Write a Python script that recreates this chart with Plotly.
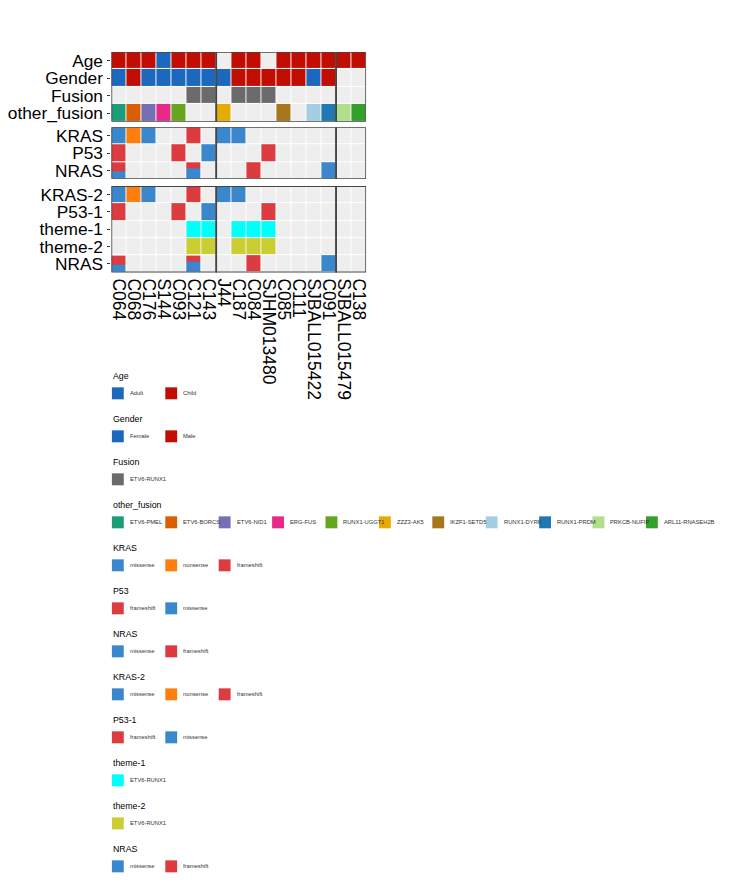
import plotly.graph_objects as go

# ---- data ----
samples = ["C064", "C068", "C176", "S144", "C093", "C121", "C143",
           "J44", "C187", "C084", "SJHM013480", "C085", "C111", "SJBALL015422", "C091",
           "SJBALL015479", "C138"]
group_sizes = [7, 8, 2]

age = ["Child", "Child", "Child", "Adult", "Child", "Child", "Child",
       None, "Child", "Child", None, "Child", "Child", "Child", "Child",
       "Child", "Child"]
gender = ["Female", "Male", "Female", "Female", "Female", "Female", "Female",
          "Female", "Male", "Male", "Male", "Male", "Male", "Female", "Male",
          None, None]
fusion = [None, None, None, None, None, "ETV6-RUNX1", "ETV6-RUNX1",
          None, "ETV6-RUNX1", "ETV6-RUNX1", "ETV6-RUNX1", None, None, None, None,
          None, None]
other_fusion = ["ETV6-PMEL", "ETV6-BORCS", "ETV6-NID1", "ERG-FUS", "RUNX1-UGGT1", None, None,
                "ZZZ3-AK5", None, None, None, "IKZF1-SETD5", None, "RUNX1-DYRK", "RUNX1-PRDM",
                "PRKCB-NUFIP", "ARL11-RNASEH2B"]
kras = ["missense", "nonsense", "missense", None, None, "frameshift", None,
        "missense", "missense", None, None, None, None, None, None,
        None, None]
p53 = ["frameshift", None, None, None, "frameshift", None, "missense",
       None, None, None, "frameshift", None, None, None, None,
       None, None]
nras = ["frameshift+missense", None, None, None, None, "frameshift+missense", None,
        None, None, "frameshift", None, None, None, None, "missense",
        None, None]
# share of the split cell taken by the frameshift (top part)
nras_frameshift_share = {0: 0.53, 5: 0.35}
theme1 = fusion[:]
theme2 = fusion[:]

panels = [
    [("Age", age), ("Gender", gender), ("Fusion", fusion), ("other_fusion", other_fusion)],
    [("KRAS", kras), ("P53", p53), ("NRAS", nras)],
    [("KRAS-2", kras), ("P53-1", p53), ("theme-1", theme1), ("theme-2", theme2), ("NRAS", nras)],
]

colors = {
    "Adult": "#1C68BE", "Child": "#C20E02",
    "Female": "#1C68BE", "Male": "#C20E02",
    "ETV6-RUNX1": "#6B6B6B",
    "ETV6-PMEL": "#1B9E77", "ETV6-BORCS": "#D95F02", "ETV6-NID1": "#7570B3",
    "ERG-FUS": "#E7298A", "RUNX1-UGGT1": "#66A61E", "ZZZ3-AK5": "#E6AB02",
    "IKZF1-SETD5": "#A6761D", "RUNX1-DYRK": "#A6CEE3", "RUNX1-PRDM": "#1F78B4",
    "PRKCB-NUFIP": "#B2DF8A", "ARL11-RNASEH2B": "#33A02C",
    "missense": "#3A87CE", "nonsense": "#FF7F0E", "frameshift": "#DC3C3F",
}
theme_colors = {"theme-1": "#00FFFF", "theme-2": "#CCCC33"}

legend_groups = [
    ("Age", ["Adult", "Child"]),
    ("Gender", ["Female", "Male"]),
    ("Fusion", ["ETV6-RUNX1"]),
    ("other_fusion", ["ETV6-PMEL", "ETV6-BORCS", "ETV6-NID1", "ERG-FUS", "RUNX1-UGGT1",
                      "ZZZ3-AK5", "IKZF1-SETD5", "RUNX1-DYRK", "RUNX1-PRDM",
                      "PRKCB-NUFIP", "ARL11-RNASEH2B"]),
    ("KRAS", ["missense", "nonsense", "frameshift"]),
    ("P53", ["frameshift", "missense"]),
    ("NRAS", ["missense", "frameshift"]),
    ("KRAS-2", ["missense", "nonsense", "frameshift"]),
    ("P53-1", ["frameshift", "missense"]),
    ("theme-1", ["ETV6-RUNX1"]),
    ("theme-2", ["ETV6-RUNX1"]),
    ("NRAS", ["missense", "frameshift"]),
]

# ---- layout geometry (pixels, window coords; the page body adds 8px) ----
W, H = 733, 883
OFF = 8
FW, FH = W - OFF, H - OFF
X_LEFT, X_RIGHT = 107.5, 365
PANEL_PX = [(51, 121), (126.5, 178.5), (185.5, 272)]
BG = "#EEEEEE"
BORDER = "#454545"
FONT = "Liberation Sans, Arial, sans-serif"


def px_x(p):
    return (p - OFF) / FW


def px_y(p):
    return 1 - (p - OFF) / FH


def one_color(c):
    return [[0, c], [1, c]]


fig = go.Figure()
ncol = len(samples)
cols = list(range(ncol))
shapes = []

for pi, rows in enumerate(panels):
    yname = "y" if pi == 0 else f"y{pi + 1}"
    nrow = len(rows)
    rows_idx = list(range(nrow))

    # empty-cell background
    fig.add_trace(go.Heatmap(
        x=cols, y=rows_idx, z=[[1] * ncol for _ in rows],
        colorscale=one_color(BG), zmin=0, zmax=1, showscale=False,
        xgap=1, ygap=1, hoverinfo="skip", xaxis="x", yaxis=yname))

    # one trace per colour in this panel
    for ri, (rname, vals) in enumerate(rows):
        cats = []
        for v in vals:
            if v is not None and "+" not in v and v not in cats:
                cats.append(v)
        for cat in cats:
            col = theme_colors.get(rname, colors[cat])
            z = [[None] * ncol for _ in rows]
            for ci, v in enumerate(vals):
                if v == cat:
                    z[ri][ci] = 1
            fig.add_trace(go.Heatmap(
                x=cols, y=rows_idx, z=z,
                colorscale=one_color(col), zmin=0, zmax=1, showscale=False,
                xgap=1, ygap=1, name=f"{rname}: {cat}",
                hovertemplate=f"{rname}: {cat}<extra></extra>",
                xaxis="x", yaxis=yname))

        # cells holding two alterations, split top / bottom
        for ci, v in enumerate(vals):
            if v is not None and "+" in v:
                top, bottom = v.split("+")
                share = nras_frameshift_share[ci]
                inset = 0.03
                edges = [ri - 0.5 + inset, ri - 0.5 + share, ri + 0.5 - inset]
                fig.add_trace(go.Heatmap(
                    x=[ci - 0.5, ci + 0.5], y=edges, z=[[0], [1]],
                    colorscale=[[0, colors[top]], [0.5, colors[top]],
                                [0.5, colors[bottom]], [1, colors[bottom]]],
                    zmin=0, zmax=1, showscale=False, xgap=1, ygap=0,
                    hovertemplate=f"{rname}: {v}<extra></extra>",
                    xaxis="x", yaxis=yname))

    # borders round each sample group
    start = 0
    for g in group_sizes:
        shapes.append(dict(type="rect", xref="x", yref=yname,
                           x0=start - 0.5, x1=start + g - 0.5,
                           y0=-0.5, y1=nrow - 0.5,
                           line=dict(color=BORDER, width=1.6), layer="above"))
        start += g

    top_px, bot_px = PANEL_PX[pi]
    fig.layout[("yaxis" if pi == 0 else f"yaxis{pi + 1}")] = dict(
        domain=[px_y(bot_px), px_y(top_px)], anchor="x",
        range=[nrow - 0.5, -0.5], tickvals=rows_idx,
        ticktext=[r[0] for r in rows], ticks="outside", ticklen=3,
        tickcolor="#333333", tickfont=dict(size=17.3, color="black", family=FONT),
        ticklabelstandoff=1,
        showgrid=False, zeroline=False, showline=False, fixedrange=True)

fig.layout["xaxis"] = dict(
    domain=[px_x(X_LEFT), px_x(X_RIGHT)], anchor="y3",
    range=[-0.5, ncol - 0.5], tickvals=cols, ticktext=samples, tickangle=90,
    ticks="", ticklabelstandoff=5,
    tickfont=dict(size=17.5, color="black", family=FONT),
    showgrid=False, zeroline=False, showline=False, fixedrange=True)

# ---- legends (titles + swatches) under the heatmap ----
annotations = []
TITLE_Y0, TITLE_STEP = 375.6, 43.1
SWATCH_DY, SWATCH, ITEM_STEP, LEG_X = 17.6, 12, 54, 108
for gi, (title, items) in enumerate(legend_groups):
    ty = TITLE_Y0 + gi * TITLE_STEP
    annotations.append(dict(
        x=px_x(LEG_X - 1), y=px_y(ty), xref="paper", yref="paper",
        text=title, showarrow=False, xanchor="left", yanchor="middle",
        font=dict(size=8.8, color="black", family=FONT)))
    sy = ty + SWATCH_DY
    for ii, item in enumerate(items):
        col = theme_colors.get(title, colors[item])
        sx = LEG_X + ii * ITEM_STEP
        shapes.append(dict(type="rect", xref="paper", yref="paper",
                           x0=px_x(sx), x1=px_x(sx + SWATCH),
                           y0=px_y(sy + SWATCH / 2), y1=px_y(sy - SWATCH / 2),
                           fillcolor=col, line=dict(width=0), layer="above"))
        annotations.append(dict(
            x=px_x(sx + 16), y=px_y(sy), xref="paper", yref="paper",
            text=item, showarrow=False, xanchor="left", yanchor="middle",
            font=dict(size=5.8, color="#333333", family=FONT)))

fig.update_layout(
    width=FW, height=FH,
    margin=dict(l=0, r=0, t=0, b=0),
    plot_bgcolor="white", paper_bgcolor="white",
    showlegend=False,
    shapes=shapes, annotations=annotations,
    font=dict(family=FONT),
)

fig.write_html("out.html")
